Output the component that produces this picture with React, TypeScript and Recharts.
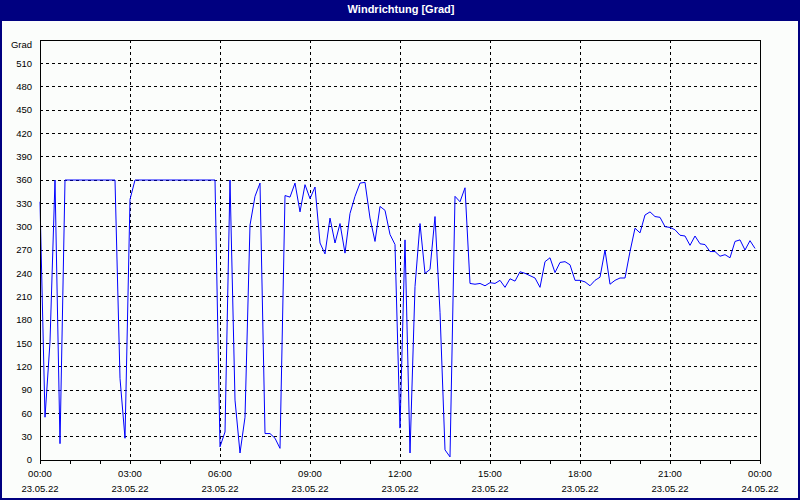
import React from 'react';
import { LineChart, Line, XAxis, YAxis, CartesianGrid, ReferenceLine } from 'recharts';

const TITLE = 'Windrichtung [Grad]';
const SAMPLE_STEP_MIN = 10;

// wind direction in degrees, one value every 10 minutes from 00:00 to 23:50
const windDirection = [
  332, 55, 152, 360, 21, 360, 360, 360, 360, 360, 360, 360,
  360, 360, 360, 360, 105, 28, 335, 360, 360, 360, 360, 360,
  360, 360, 360, 360, 360, 360, 360, 360, 360, 360, 360, 360,
  17, 36, 360, 77, 9, 55, 302, 339, 356, 34, 34, 28,
  15, 340, 338, 356, 319, 354, 336, 351, 279, 265, 311, 279,
  304, 266, 317, 339, 356, 357, 311, 281, 326, 321, 290, 277,
  41, 283, 9, 223, 304, 240, 245, 313, 190, 13, 4, 339,
  332, 350, 227, 226, 227, 224, 228, 227, 231, 222, 233, 230,
  242, 240, 237, 234, 222, 255, 260, 241, 254, 255, 251, 231,
  231, 229, 224, 231, 235, 270, 226, 231, 234, 234, 268, 298,
  292, 315, 319, 313, 312, 300, 299, 296, 289, 288, 276, 288,
  278, 277, 268, 268, 262, 264, 260, 281, 283, 270, 282, 272,
];

const xTickMinutes = [
  0, 60, 120, 180, 240, 300, 360, 420, 480, 540, 600, 660, 720,
  780, 840, 900, 960, 1020, 1080, 1140, 1200, 1260, 1320, 1380, 1440,
];
const xLabelMinutes = [0, 180, 360, 540, 720, 900, 1080, 1260, 1440];
const xLabelTimes = ['00:00', '03:00', '06:00', '09:00', '12:00', '15:00', '18:00', '21:00', '00:00'];
const xLabelDates = ['23.05.22', '23.05.22', '23.05.22', '23.05.22', '23.05.22', '23.05.22', '23.05.22', '23.05.22', '24.05.22'];
const verticalGridMinutes = [180, 360, 540, 720, 900, 1080, 1260];

const leftTicks = [0, 30, 60, 90, 120, 150, 180, 210, 240, 270, 300, 330, 360, 390, 420, 450, 480, 510, 540];
const leftTickLabels = ['0', '30', '60', '90', '120', '150', '180', '210', '240', '270', '300', '330', '360', '390', '420', '450', '480', '510', 'Grad'];
const horizontalGridValues = [30, 60, 90, 120, 150, 180, 210, 240, 270, 300, 330, 360, 390, 420, 450, 480, 510];

const rightTicks = [0, 45, 90, 135, 180, 225, 270, 315, 360, 405, 450, 495, 540];
const rightTickLabels = ['N', 'NE', 'E', 'SE', 'S', 'SW', 'W', 'NW', 'N', 'NE', 'E', 'SE', 'S'];

const data = windDirection.map((v, i) => ({ t: i * SAMPLE_STEP_MIN, dir: v }));

const FONT = '"Liberation Sans", Arial, sans-serif';
const TICK_FS = 9.5;

const LeftTick = (props: any) => {
  const { x, y, payload } = props;
  const idx = leftTicks.indexOf(payload.value);
  const label = idx >= 0 ? leftTickLabels[idx] : String(payload.value);
  const isUnit = payload.value === 540;
  return (
    <text x={x} y={y + (isUnit ? 5 : 0)} dy="0.35em" textAnchor="end" fontSize={TICK_FS} fontFamily={FONT} fill="#000">
      {label}
    </text>
  );
};

const RightTick = (props: any) => {
  const { x, y, payload } = props;
  const idx = rightTicks.indexOf(payload.value);
  const label = idx >= 0 ? rightTickLabels[idx] : '';
  return (
    <text x={x} y={y} dy="0.35em" textAnchor="start" fontSize={TICK_FS} fontFamily={FONT} fill="#000">
      {label}
    </text>
  );
};

const BottomTick = (props: any) => {
  const { x, y, payload } = props;
  const idx = xLabelMinutes.indexOf(payload.value);
  if (idx < 0) return <g />;
  return (
    <g>
      <text x={x} y={y + 13} textAnchor="middle" fontSize={TICK_FS} fontFamily={FONT} fill="#000">
        {xLabelTimes[idx]}
      </text>
      <text x={x} y={y + 28} textAnchor="middle" fontSize={TICK_FS} fontFamily={FONT} fill="#000">
        {xLabelDates[idx]}
      </text>
    </g>
  );
};

export default function App() {
  return (
    <div style={{ position: 'absolute', left: 0, top: 0, width: 800, height: 500, background: '#000080' }}>
      <svg width={800} height={21} style={{ position: 'absolute', left: 0, top: 0 }}>
        <text x={401} y={13} textAnchor="middle" fill="#ffffff" fontWeight="bold" fontSize={11} fontFamily={FONT}>
          {TITLE}
        </text>
      </svg>
      <div style={{ position: 'absolute', left: 2, top: 21, width: 796, height: 477, background: '#FBFDFB' }}>
        <LineChart width={796} height={477} data={data} margin={{ top: 19, right: 0, bottom: 0, left: 0 }}>
          <CartesianGrid
            yAxisId="left"
            stroke="#000"
            strokeDasharray="3 3"
            horizontalValues={horizontalGridValues}
            verticalValues={verticalGridMinutes}
            shapeRendering="crispEdges"
          />
          <XAxis
            dataKey="t"
            type="number"
            domain={[0, 1440]}
            ticks={xTickMinutes}
            interval={0}
            tickSize={4}
            tickMargin={0}
            height={38}
            tick={<BottomTick />}
            axisLine={{ stroke: '#000', shapeRendering: 'crispEdges' }}
            tickLine={{ stroke: '#000', shapeRendering: 'crispEdges' }}
          />
          <YAxis
            yAxisId="left"
            orientation="left"
            type="number"
            domain={[0, 540]}
            ticks={leftTicks}
            interval={0}
            width={38}
            tickSize={0}
            tickMargin={8}
            tick={<LeftTick />}
            axisLine={{ stroke: '#000', shapeRendering: 'crispEdges' }}
            tickLine={false}
          />
          <YAxis
            yAxisId="right"
            orientation="right"
            type="number"
            domain={[0, 540]}
            ticks={rightTicks}
            interval={0}
            width={38}
            tickSize={4}
            tickMargin={1}
            tick={<RightTick />}
            axisLine={{ stroke: '#000', shapeRendering: 'crispEdges' }}
            tickLine={{ stroke: '#000', shapeRendering: 'crispEdges' }}
          />
          <ReferenceLine yAxisId="left" y={540} stroke="#000" shapeRendering="crispEdges" />
          <Line
            yAxisId="left"
            type="linear"
            dataKey="dir"
            stroke="#0000FF"
            strokeWidth={1}
            dot={false}
            activeDot={false}
            isAnimationActive={false}
          />
        </LineChart>
      </div>
    </div>
  );
}
